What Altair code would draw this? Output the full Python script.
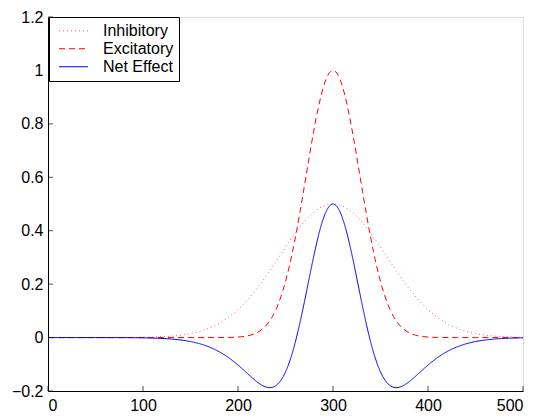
import altair as alt
import pandas as pd

x_vals = list(range(0, 501, 10))

inhibitory = [0, 0, 0, 0, 0, 0, 0.0001, 0.0001, 0.0003, 0.0005,
              0.0010, 0.0018, 0.0032, 0.0055, 0.0092, 0.0149, 0.0234, 0.0357, 0.0527, 0.0755,
              0.1048, 0.1410, 0.1839, 0.2325, 0.2849, 0.3383, 0.3894, 0.4344, 0.4697, 0.4922,
              0.5,
              0.4922, 0.4697, 0.4344, 0.3894, 0.3383, 0.2849, 0.2325, 0.1839, 0.1410, 0.1048,
              0.0755, 0.0527, 0.0357, 0.0234, 0.0149, 0.0092, 0.0055, 0.0032, 0.0018, 0.0010]

excitatory = [0, 0, 0, 0, 0, 0, 0, 0, 0, 0,
              0, 0, 0, 0, 0, 0, 0, 0, 0.0001, 0.0005,
              0.0019, 0.0063, 0.0183, 0.0468, 0.1054, 0.2096, 0.3679, 0.5698, 0.7788, 0.9394,
              1.0,
              0.9394, 0.7788, 0.5698, 0.3679, 0.2096, 0.1054, 0.0468, 0.0183, 0.0063, 0.0019,
              0.0005, 0.0001, 0, 0, 0, 0, 0, 0, 0, 0]

net_effect = [0, 0, 0, 0, 0, 0, -0.0001, -0.0001, -0.0003, -0.0005,
              -0.0010, -0.0018, -0.0032, -0.0055, -0.0092, -0.0149, -0.0234, -0.0357, -0.0526, -0.0750,
              -0.1029, -0.1347, -0.1656, -0.1857, -0.1795, -0.1287, -0.0215, 0.1354, 0.3091, 0.4472,
              0.5,
              0.4472, 0.3091, 0.1354, -0.0215, -0.1287, -0.1795, -0.1857, -0.1656, -0.1347, -0.1029,
              -0.0750, -0.0526, -0.0357, -0.0234, -0.0149, -0.0092, -0.0055, -0.0032, -0.0018, -0.0010]

series_names = ["Inhibitory", "Excitatory", "Net Effect"]
series_colors = ["#ff5a5a", "#ff0000", "#0000ff"]
series_dashes = [[1, 3], [6, 4], [1, 0]]

x_ticks = [0, 100, 200, 300, 400, 500]
y_ticks = [-0.2, 0, 0.2, 0.4, 0.6, 0.8, 1, 1.2]

rows = []
for name, vals in zip(series_names, [inhibitory, excitatory, net_effect]):
    for xv, yv in zip(x_vals, vals):
        rows.append({"x": xv, "y": yv, "series": name})
df = pd.DataFrame(rows)

FONT = "Liberation Sans"

xscale = alt.Scale(domain=[0, 500], nice=False, zero=False)
yscale = alt.Scale(domain=[-0.2, 1.2], nice=False, zero=False)


def make_legend():
    return alt.Legend(title=None, orient="none", legendX=1, legendY=0,
                      strokeColor="black", fillColor="white",
                      padding=5, symbolType="stroke", symbolSize=841, symbolOffset=4,
                      symbolStrokeWidth=1.2, labelFont=FONT,
                      labelFontSize=16, labelColor="black",
                      rowPadding=0, clipHeight=17.5, labelOffset=14, cornerRadius=0)


lines = alt.Chart(df).mark_line(strokeWidth=1, interpolate="natural").encode(
    x=alt.X("x:Q", scale=xscale,
            axis=alt.Axis(values=x_ticks, format="d", title=None, grid=False,
                          ticks=False, domainColor="black", domainWidth=1,
                          labelFont=FONT, labelFontSize=16, labelColor="black",
                          labelPadding=6)),
    y=alt.Y("y:Q", scale=yscale,
            axis=alt.Axis(values=y_ticks, format="~g", title=None, grid=False,
                          ticks=False, domainColor="black", domainWidth=1,
                          labelFont=FONT, labelFontSize=16, labelColor="black",
                          labelPadding=5)),
    color=alt.Color("series:N",
                    scale=alt.Scale(domain=series_names, range=series_colors),
                    legend=make_legend()),
    strokeDash=alt.StrokeDash("series:N",
                              scale=alt.Scale(domain=series_names, range=series_dashes),
                              legend=make_legend()),
    order=alt.value(0),
)

xt = alt.Chart(pd.DataFrame({"t": x_ticks})).mark_tick(
    orient="vertical", size=5, thickness=1, color="black", yOffset=-2.5
).encode(x=alt.X("t:Q", scale=xscale), y=alt.datum(-0.2, scale=yscale))

yt = alt.Chart(pd.DataFrame({"t": y_ticks})).mark_tick(
    orient="horizontal", size=5, thickness=1, color="black", xOffset=2.5
).encode(y=alt.Y("t:Q", scale=yscale), x=alt.datum(0, scale=xscale))

chart = alt.layer(lines, xt, yt).properties(
    width=475, height=374,
    autosize=alt.AutoSizeParams(type="none"),
    padding={"left": 48, "top": 17, "right": 17, "bottom": 29},
).configure_view(stroke=None).configure(background="white")

chart.save("out.html", embed_options={"renderer": "svg", "actions": False})
